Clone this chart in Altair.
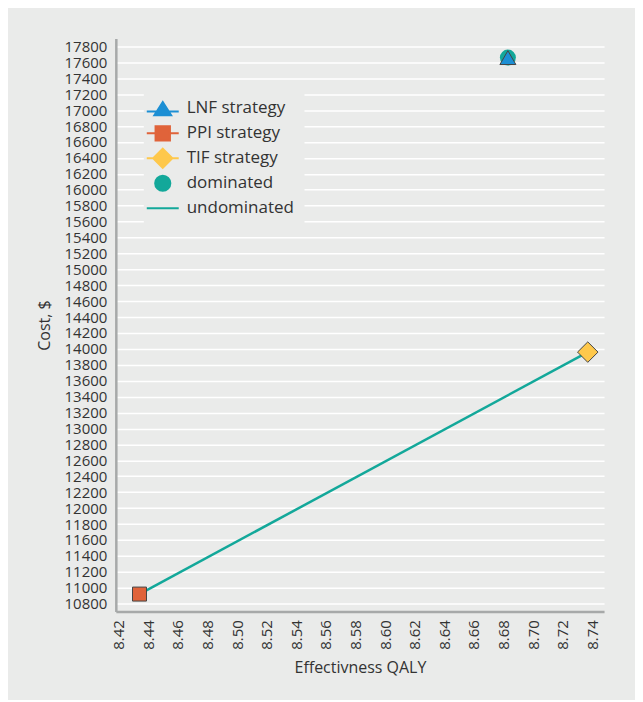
import altair as alt
import pandas as pd

# ---- data ----
strategies = ["LNF strategy", "PPI strategy", "TIF strategy"]
qaly = [8.683, 8.434, 8.737]
cost = [17660, 10920, 13960]
dominated = ["LNF strategy"]
frontier = ["PPI strategy", "TIF strategy"]

legend_items = ["LNF strategy", "PPI strategy", "TIF strategy", "dominated", "undominated"]
item_colors = ["#1c8fd4", "#e0633a", "#fec84b", "#13a89a", "#13a89a"]
# every legend symbol carries the same invisible vertical extent (M0,-1.5M0,1.5)
# so that all legend rows get the same height
legend_paths = [
    "M0,-1.5M0,1.5M-2,0.4H-0.76M0.76,0.4H2M0,-0.8L1.05,0.85L-1.05,0.85Z",
    "M0,-1.5M0,1.5M-2,0H-0.9M0.9,0H2M-0.9,-0.9H0.9V0.9H-0.9Z",
    "M0,-1.5M0,1.5M-2,0H-1.2M1.2,0H2M0,-1.2L1.2,0L0,1.2L-1.2,0Z",
    "M0,-1.5M0,1.5M0.95,0A0.95,0.95,0,1,1,-0.95,0A0.95,0.95,0,1,1,0.95,0Z",
    "M0,-1.5M0,1.5M-2,0H2",
]
x_ticks = [8.42, 8.44, 8.46, 8.48, 8.50, 8.52, 8.54, 8.56, 8.58, 8.60,
           8.62, 8.64, 8.66, 8.68, 8.70, 8.72, 8.74]
y_ticks = list(range(10800, 17801, 200))

BG = "#eaebea"
TEAL = "#13a89a"
FONT = "Open Sans"
TXT = "#333333"

df = pd.DataFrame({"strategy": strategies, "qaly": qaly, "cost": cost})

x_enc = alt.X(
    "qaly:Q",
    scale=alt.Scale(domain=[8.418, 8.748], nice=False, zero=False),
    axis=alt.Axis(values=x_ticks, format=".2f", labelAngle=270, grid=False,
                  title="Effectivness QALY", labelPadding=8,
                  titleX=244.5, titleY=56, titleBaseline="middle"),
)
y_enc = alt.Y(
    "cost:Q",
    scale=alt.Scale(domain=[10700, 17900], nice=False, zero=False),
    axis=alt.Axis(values=y_ticks, format="d", grid=True, gridColor="white",
                  gridWidth=1.5, gridOpacity=1, title="Cost, $", labelPadding=9,
                  titleX=-71, titleY=287, titleBaseline="middle", titleAlign="center"),
)

base = alt.Chart(df)

line = base.transform_filter(
    alt.FieldOneOfPredicate(field="strategy", oneOf=frontier)
).mark_line(color=TEAL, strokeWidth=2.5).encode(x=x_enc, y=y_enc)

dom = base.transform_filter(
    alt.FieldOneOfPredicate(field="strategy", oneOf=dominated)
).mark_point(shape="circle", filled=True, size=256, color=TEAL, opacity=1).encode(x=x_enc, y=y_enc)

tri = base.transform_filter(alt.datum.strategy == "LNF strategy").mark_point(
    shape="triangle-up", filled=True, size=256, fill=item_colors[0],
    stroke="#444444", strokeWidth=1, opacity=1).encode(x=x_enc, y=y_enc)

sq = base.transform_filter(alt.datum.strategy == "PPI strategy").mark_point(
    shape="square", filled=True, size=196, fill=item_colors[1],
    stroke="#444444", strokeWidth=1, opacity=1).encode(x=x_enc, y=y_enc)

dia = base.transform_filter(alt.datum.strategy == "TIF strategy").mark_point(
    shape="diamond", filled=True, size=420, fill=item_colors[2],
    stroke="#444444", strokeWidth=1, opacity=1).encode(x=x_enc, y=y_enc)

leg = alt.Legend(
    title=None, orient="none", legendX=28, legendY=51, fillColor=BG, padding=10,
    symbolSize=256, symbolStrokeWidth=2, symbolOpacity=1, labelFontSize=17,
    labelFont=FONT, labelColor=TXT, labelOffset=15, rowPadding=-9,
)
legend_df = pd.DataFrame({"item": legend_items})
dummy = alt.Chart(legend_df).mark_point(filled=True, opacity=0).encode(
    fill=alt.Fill("item:N", scale=alt.Scale(domain=legend_items, range=item_colors), legend=leg),
    stroke=alt.Stroke("item:N", scale=alt.Scale(domain=legend_items, range=item_colors), legend=leg),
    shape=alt.Shape("item:N", scale=alt.Scale(domain=legend_items, range=legend_paths), legend=leg),
)

chart = alt.layer(dummy, line, dom, tri, sq, dia).properties(
    width=489, height=574,
    background=BG,
    padding={"left": 108, "top": 30, "right": 31, "bottom": 88},
    autosize=alt.AutoSizeParams(type="none"),
).configure_view(stroke=None).configure_axis(
    domainColor="#a7a9a9", domainWidth=2.5, ticks=False,
    labelFont=FONT, labelFontSize=15, labelColor=TXT,
    titleFont=FONT, titleFontSize=16, titleFontWeight="normal", titleColor=TXT,
)

chart.save("out.html", embed_options={"renderer": "svg", "actions": False})
